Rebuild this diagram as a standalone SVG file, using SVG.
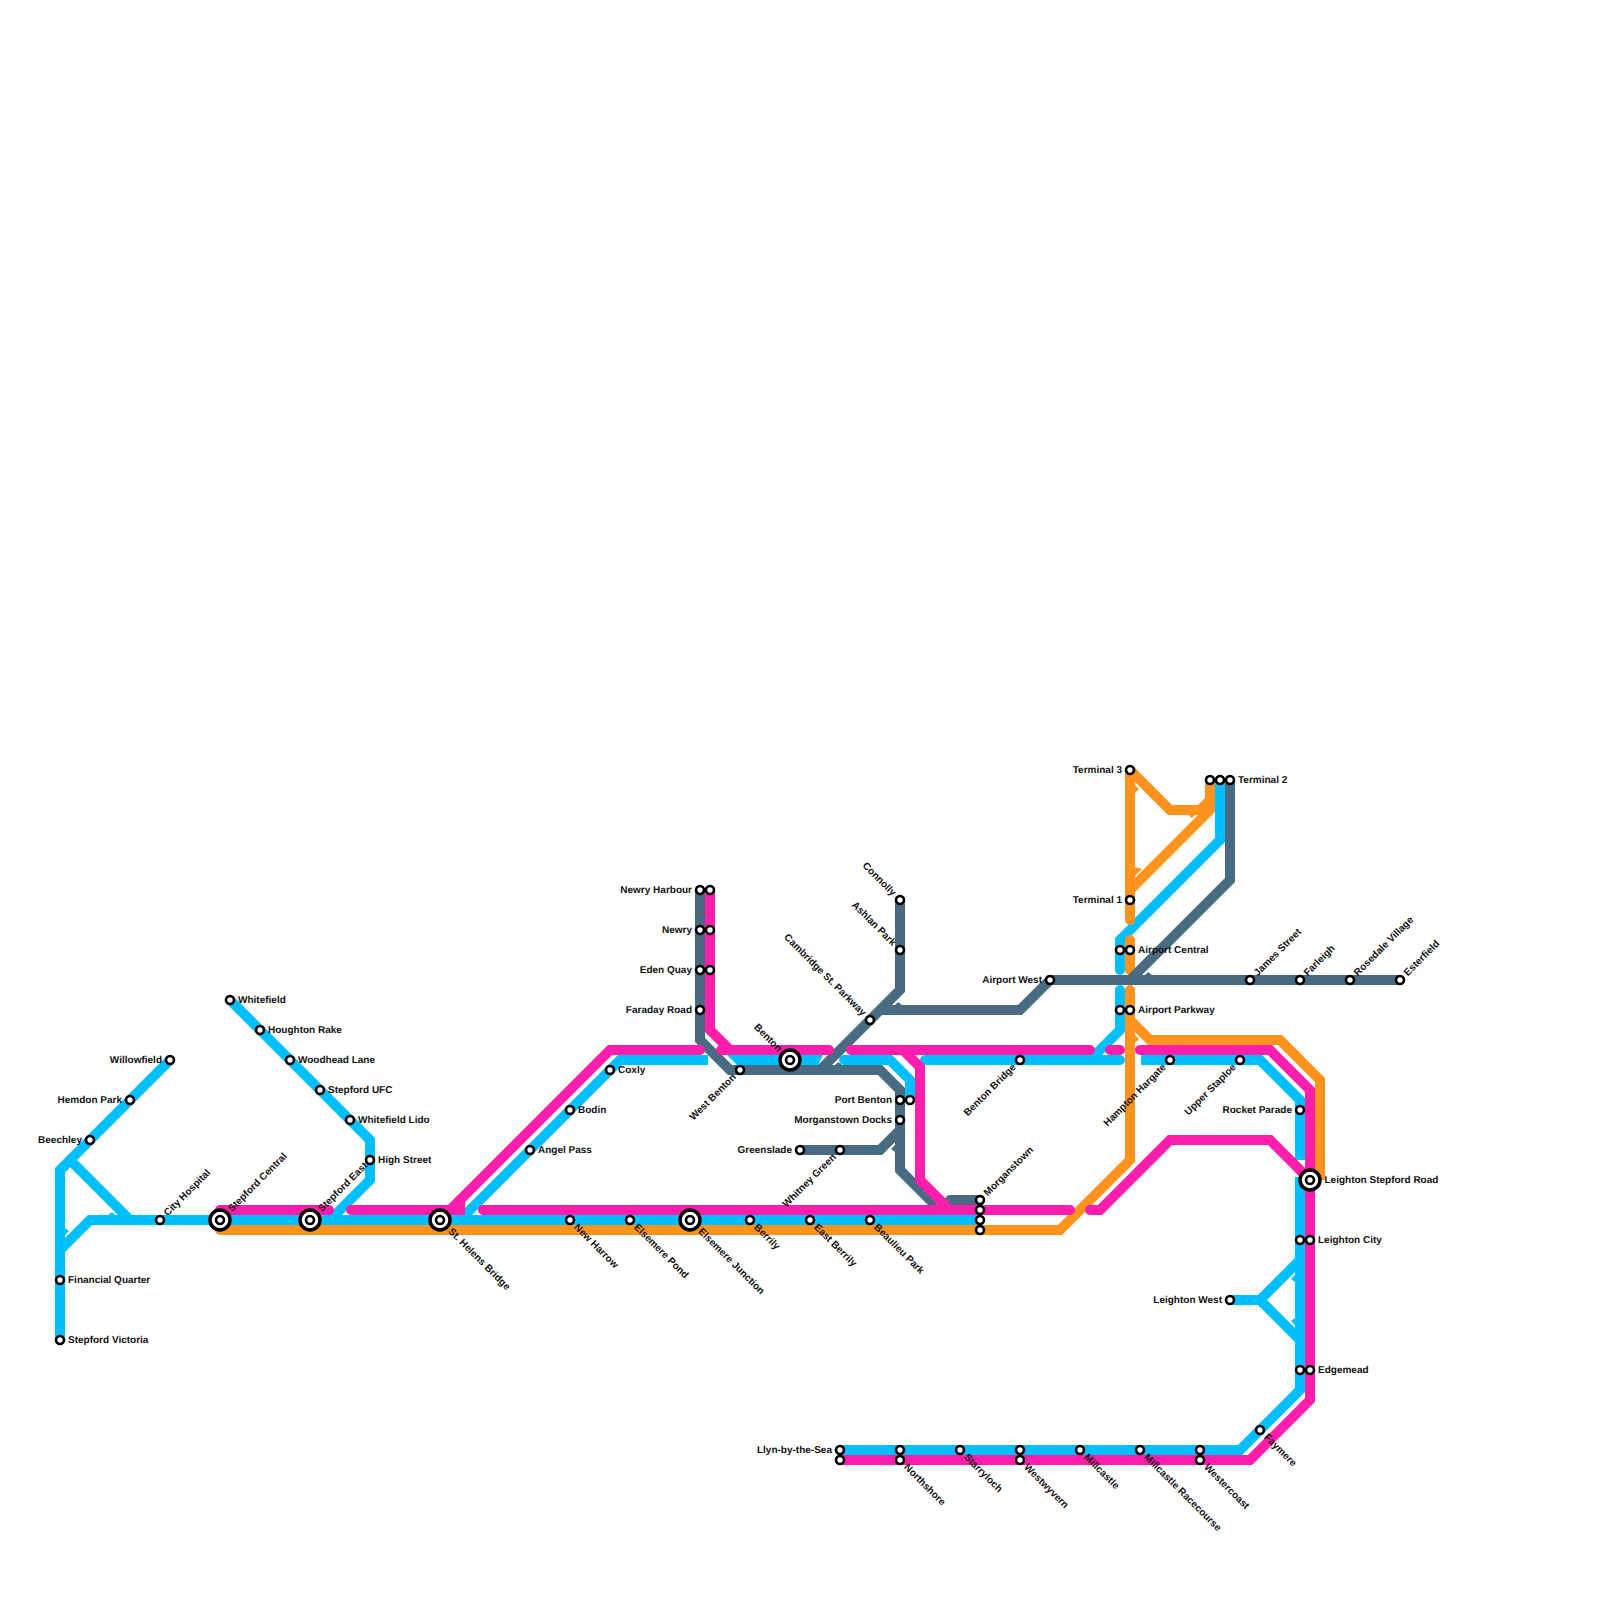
<svg xmlns="http://www.w3.org/2000/svg" width="1600" height="1600" viewBox="0 0 1600 1600">
<style>
text{font-family:"Liberation Sans",Arial,sans-serif;font-size:10px;font-weight:700;fill:#111;text-rendering:geometricPrecision}
.e{text-anchor:end}
.c path{fill:none;stroke-width:10;stroke-linejoin:miter;stroke-miterlimit:2}
.b path{stroke:#00bfff}.p path{stroke:#ff1dac}.o path{stroke:#ff931e}.g path{stroke:#486b82}
.c .rd{stroke-linecap:round}
.b polygon{fill:#00bfff}.o polygon{fill:#ff931e}.g polygon{fill:#486b82}
.n circle{fill:#fff;stroke:#000;stroke-width:2.6}
.n circle.h{stroke-width:3.5}
</style>
<rect width="1600" height="1600" fill="#fff"/>
<g id="connectors" class="c">
<g class="b">
<path d="M60 1340V1170L170 1060"/>
<path d="M70 1160L130 1220"/>
<path d="M60 1250L90 1220H980"/>
<path d="M230 1000L370 1140V1180L330 1220"/>
<path d="M460 1220L620 1060H708" />
<polygon points="727,1055 823,1055 818,1065 737,1065"/>
<path d="M844 1060H890L910 1080V1100" class="rd"/>
<path d="M925 1060H1120" class="rd"/>
<path d="M1090 1060L1120 1030V990" class="rd"/>
<path d="M1141 1060H1260L1300 1100V1160" />
<path d="M1300 1177V1390L1240 1450H840"/>
<path d="M1220 780V840L1120 940V970" class="rd"/>
<path d="M1230 1300H1260L1300 1260M1260 1300L1300 1340"/>
<polygon points="65,1165 65,1172 69,1169"/>
<polygon points="65,1235 65,1228 69,1231"/>
<polygon points="115,1215 108,1215 112,1212"/>
<polygon points="1295,1275 1295,1282 1291,1279"/>
<polygon points="1295,1325 1295,1318 1291,1321"/>
</g>
<g class="o">
<path d="M220 1230H1060L1130 1160V990" class="rd"/>
<path d="M1130 1020L1150 1040H1280L1320 1080V1180"/>
<path d="M1130 920V770L1170 810H1200L1210 800" class="rd"/>
<path d="M1130 890L1210 810V780"/>
<path d="M1130 940V970" class="rd"/>
<polygon points="1135,867 1135,876 1142,869"/>
<polygon points="1135,785 1135,793 1139,789"/>
<polygon points="1195,815 1188,815 1192,818"/>
<polygon points="1135,1035 1135,1043 1139,1039"/>
</g>
<g class="g">
<path d="M700 890V1040L730 1070H880L900 1090V1170L940 1210"/>
<path d="M820 1070L900 990V900"/>
<path d="M880 1010H1020L1050 980H1400"/>
<path d="M1230 780V880L1130 980"/>
<path d="M800 1150H880L900 1130"/>
<path d="M950 1200H980" class="rd"/>
<polygon points="895,1005 902,1005 898,1002"/>
<polygon points="1145,975 1152,975 1148,972"/>
<polygon points="835,1065 842,1065 838,1062"/>
<polygon points="895,1145 895,1152 891,1149"/>
</g>
<g class="p">
<path d="M220 1210H329" class="rd"/>
<path d="M351 1210H460V1200" class="rd"/>
<path d="M450 1210L610 1050H700" class="rd"/>
<path d="M483 1210H1070" class="rd"/>
<path d="M1090 1210H1100L1170 1140H1270L1310 1180" class="rd"/>
<path d="M710 890V1030L730 1050"/>
<path d="M721 1050H829" class="rd"/>
<path d="M851 1050H1090" class="rd"/>
<path d="M903 1050L920 1067V1180L950 1210"/>
<path d="M1110 1050H1120" class="rd"/>
<path d="M1140 1050H1270L1310 1090V1400L1250 1460H840" class="rd"/>
</g>
</g>
<g id="stations" class="n">
<g id="whitefield" transform="translate(230,1000)"><circle r="4"/><text x="8" y="3">Whitefield</text></g>
<g id="houghton-rake" transform="translate(260,1030)"><circle r="4"/><text x="8" y="3">Houghton Rake</text></g>
<g id="woodhead-lane" transform="translate(290,1060)"><circle r="4"/><text x="8" y="3">Woodhead Lane</text></g>
<g id="stepford-ufc" transform="translate(320,1090)"><circle r="4"/><text x="8" y="3">Stepford UFC</text></g>
<g id="whitefield-lido" transform="translate(350,1120)"><circle r="4"/><text x="8" y="3">Whitefield Lido</text></g>
<g id="high-street" transform="translate(370,1160)"><circle r="4"/><text x="8" y="3">High Street</text></g>
<g id="willowfield" transform="translate(170,1060)"><circle r="4"/><text class="e" x="-8" y="3">Willowfield</text></g>
<g id="hemdon-park" transform="translate(130,1100)"><circle r="4"/><text class="e" x="-8" y="3">Hemdon Park</text></g>
<g id="beechley" transform="translate(90,1140)"><circle r="4"/><text class="e" x="-8" y="3">Beechley</text></g>
<g id="financial-quarter" transform="translate(60,1280)"><circle r="4"/><text x="8" y="3">Financial Quarter</text></g>
<g id="stepford-victoria" transform="translate(60,1340)"><circle r="4"/><text x="8" y="3">Stepford Victoria</text></g>
<g id="city-hospital" transform="translate(160,1220)"><circle r="4"/><text transform="rotate(-45)" x="8" y="3">City Hospital</text></g>
<g id="stepford-central" transform="translate(220,1220)"><circle class="h" r="10"/><circle r="4"/><text transform="rotate(-45)" x="14" y="3">Stepford Central</text></g>
<g id="stepford-east" transform="translate(310,1220)"><circle class="h" r="10"/><circle r="4"/><text transform="rotate(-45)" x="14" y="3">Stepford East</text></g>
<g id="st-helens-bridge" transform="translate(440,1220)"><circle class="h" r="10"/><circle r="4"/><text transform="rotate(45)" x="14" y="3">St. Helens Bridge</text></g>
<g id="new-harrow" transform="translate(570,1220)"><circle r="4"/><text transform="rotate(45)" x="8" y="3">New Harrow</text></g>
<g id="elsemere-pond" transform="translate(630,1220)"><circle r="4"/><text transform="rotate(45)" x="8" y="3">Elsemere Pond</text></g>
<g id="elsemere-junction" transform="translate(690,1220)"><circle class="h" r="10"/><circle r="4"/><text transform="rotate(45)" x="14" y="3">Elsemere Junction</text></g>
<g id="berrily" transform="translate(750,1220)"><circle r="4"/><text transform="rotate(45)" x="8" y="3">Berrily</text></g>
<g id="east-berrily" transform="translate(810,1220)"><circle r="4"/><text transform="rotate(45)" x="8" y="3">East Berrily</text></g>
<g id="beaulieu-park" transform="translate(870,1220)"><circle r="4"/><text transform="rotate(45)" x="8" y="3">Beaulieu Park</text></g>
<g id="angel-pass" transform="translate(530,1150)"><circle r="4"/><text x="8" y="3">Angel Pass</text></g>
<g id="bodin" transform="translate(570,1110)"><circle r="4"/><text x="8" y="3">Bodin</text></g>
<g id="coxly" transform="translate(610,1070)"><circle r="4"/><text x="8" y="3">Coxly</text></g>
<g id="newry-harbour" transform="translate(700,890)"><circle r="4"/><circle cx="10" r="4"/><text class="e" x="-8" y="3">Newry Harbour</text></g>
<g id="newry" transform="translate(700,930)"><circle r="4"/><circle cx="10" r="4"/><text class="e" x="-8" y="3">Newry</text></g>
<g id="eden-quay" transform="translate(700,970)"><circle r="4"/><circle cx="10" r="4"/><text class="e" x="-8" y="3">Eden Quay</text></g>
<g id="faraday-road" transform="translate(700,1010)"><circle r="4"/><text class="e" x="-8" y="3">Faraday Road</text></g>
<g id="west-benton" transform="translate(740,1070)"><circle r="4"/><text class="e" transform="rotate(-45)" x="-8" y="3">West Benton</text></g>
<g id="benton" transform="translate(790,1060)"><circle class="h" r="10"/><circle r="4"/><text class="e" transform="rotate(45)" x="-14" y="3">Benton</text></g>
<g id="greenslade" transform="translate(800,1150)"><circle r="4"/><text class="e" x="-8" y="3">Greenslade</text></g>
<g id="whitney-green" transform="translate(840,1150)"><circle r="4"/><text class="e" transform="rotate(-45)" x="-8" y="3">Whitney Green</text></g>
<g id="port-benton" transform="translate(900,1100)"><circle r="4"/><circle cx="10" r="4"/><text class="e" x="-8" y="3">Port Benton</text></g>
<g id="morganstown-docks" transform="translate(900,1120)"><circle r="4"/><text class="e" x="-8" y="3">Morganstown Docks</text></g>
<g id="cambridge-st-parkway" transform="translate(870,1020)"><circle r="4"/><text class="e" transform="rotate(45)" x="-8" y="3">Cambridge St. Parkway</text></g>
<g id="ashlan-park" transform="translate(900,950)"><circle r="4"/><text class="e" transform="rotate(45)" x="-8" y="3">Ashlan Park</text></g>
<g id="connolly" transform="translate(900,900)"><circle r="4"/><text class="e" transform="rotate(45)" x="-8" y="3">Connolly</text></g>
<g id="airport-west" transform="translate(1050,980)"><circle r="4"/><text class="e" x="-8" y="3">Airport West</text></g>
<g id="benton-bridge" transform="translate(1020,1060)"><circle r="4"/><text class="e" transform="rotate(-45)" x="-8" y="3">Benton Bridge</text></g>
<g id="morganstown" transform="translate(980,1200)"><circle r="4"/><circle cy="10" r="4"/><circle cy="20" r="4"/><circle cy="30" r="4"/><text transform="rotate(-45)" x="8" y="3">Morganstown</text></g>
<g id="terminal-3" transform="translate(1130,770)"><circle r="4"/><text class="e" x="-8" y="3">Terminal 3</text></g>
<g id="terminal-1" transform="translate(1130,900)"><circle r="4"/><text class="e" x="-8" y="3">Terminal 1</text></g>
<g id="terminal-2" transform="translate(1230,780)"><circle cx="-20" r="4"/><circle cx="-10" r="4"/><circle r="4"/><text x="8" y="3">Terminal 2</text></g>
<g id="airport-central" transform="translate(1130,950)"><circle cx="-10" r="4"/><circle r="4"/><text x="8" y="3">Airport Central</text></g>
<g id="airport-parkway" transform="translate(1130,1010)"><circle cx="-10" r="4"/><circle r="4"/><text x="8" y="3">Airport Parkway</text></g>
<g id="james-street" transform="translate(1250,980)"><circle r="4"/><text transform="rotate(-45)" x="8" y="3">James Street</text></g>
<g id="farleigh" transform="translate(1300,980)"><circle r="4"/><text transform="rotate(-45)" x="8" y="3">Farleigh</text></g>
<g id="rosedale-village" transform="translate(1350,980)"><circle r="4"/><text transform="rotate(-45)" x="8" y="3">Rosedale Village</text></g>
<g id="esterfield" transform="translate(1400,980)"><circle r="4"/><text transform="rotate(-45)" x="8" y="3">Esterfield</text></g>
<g id="hampton-hargate" transform="translate(1170,1060)"><circle r="4"/><text class="e" transform="rotate(-45)" x="-8" y="3">Hampton Hargate</text></g>
<g id="upper-staploe" transform="translate(1240,1060)"><circle r="4"/><text class="e" transform="rotate(-45)" x="-8" y="3">Upper Staploe</text></g>
<g id="rocket-parade" transform="translate(1300,1110)"><circle r="4"/><text class="e" x="-8" y="3">Rocket Parade</text></g>
<g id="leighton-stepford-road" transform="translate(1310,1180)"><circle class="h" r="10"/><circle r="4"/><text x="14.5" y="3">Leighton Stepford Road</text></g>
<g id="leighton-city" transform="translate(1310,1240)"><circle cx="-10" r="4"/><circle r="4"/><text x="8" y="3">Leighton City</text></g>
<g id="leighton-west" transform="translate(1230,1300)"><circle r="4"/><text class="e" x="-8" y="3">Leighton West</text></g>
<g id="edgemead" transform="translate(1310,1370)"><circle cx="-10" r="4"/><circle r="4"/><text x="8" y="3">Edgemead</text></g>
<g id="faymere" transform="translate(1260,1430)"><circle r="4"/><text transform="rotate(45)" x="8" y="3">Faymere</text></g>
<g id="westercoast" transform="translate(1200,1450)"><circle r="4"/><circle cy="10" r="4"/><text transform="translate(0,10) rotate(45)" x="8" y="3">Westercoast</text></g>
<g id="millcastle-racecourse" transform="translate(1140,1450)"><circle r="4"/><text transform="rotate(45)" x="8" y="3">Millcastle Racecourse</text></g>
<g id="millcastle" transform="translate(1080,1450)"><circle r="4"/><text transform="rotate(45)" x="8" y="3">Millcastle</text></g>
<g id="westwyvern" transform="translate(1020,1450)"><circle r="4"/><circle cy="10" r="4"/><text transform="translate(0,10) rotate(45)" x="8" y="3">Westwyvern</text></g>
<g id="starryloch" transform="translate(960,1450)"><circle r="4"/><text transform="rotate(45)" x="8" y="3">Starryloch</text></g>
<g id="northshore" transform="translate(900,1450)"><circle r="4"/><circle cy="10" r="4"/><text transform="translate(0,10) rotate(45)" x="8" y="3">Northshore</text></g>
<g id="llyn-by-the-sea" transform="translate(840,1450)"><circle r="4"/><circle cy="10" r="4"/><text class="e" x="-8" y="3">Llyn-by-the-Sea</text></g>
</g>
</svg>
